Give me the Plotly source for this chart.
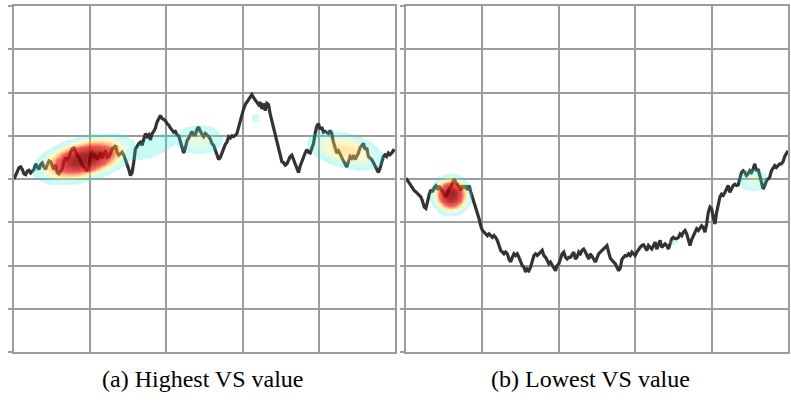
import numpy as np
import plotly.graph_objects as go

# Normalised price paths (level relative to the first step)
high_vs_path = [
    0.00, 0.10, 0.20, 0.26, 0.28, 0.22, 0.12, 0.10, 0.18, 0.20,
    0.14, 0.18, 0.22, 0.35, 0.30, 0.22, 0.33, 0.37, 0.28, 0.22,
    0.33, 0.42, 0.40, 0.28, 0.22, 0.33, 0.15, 0.12, 0.20, 0.24,
    0.40, 0.50, 0.45, 0.50, 0.62, 0.70, 0.72, 0.62, 0.55, 0.50,
    0.40, 0.33, 0.28, 0.22, 0.18, 0.28, 0.55, 0.60, 0.52, 0.55,
    0.45, 0.52, 0.62, 0.48, 0.58, 0.66, 0.50, 0.52, 0.60, 0.70,
    0.72, 0.78, 0.62, 0.55, 0.58, 0.62, 0.55, 0.45, 0.35, 0.22,
    0.08, 0.15, 0.40, 0.70, 0.75, 0.82, 0.85, 0.78, 0.92, 1.05,
    0.98, 1.02, 0.90, 1.05, 1.10, 1.18, 1.32, 1.40, 1.47, 1.40,
    1.38, 1.35, 1.28, 1.25, 1.18, 1.12, 1.08, 1.10, 1.02, 1.00,
    0.88, 0.72, 0.60, 0.72, 0.88, 0.95, 1.05, 1.10, 1.02, 1.02,
    1.15, 1.20, 1.10, 1.02, 0.98, 1.05, 1.02,
    0.98, 0.92, 0.82, 0.78, 0.68, 0.58, 0.45, 0.50, 0.62, 0.72,
    0.80, 0.85, 0.98, 0.95, 1.00, 0.98, 1.02, 1.05, 1.20, 1.35,
    1.45, 1.62, 1.72, 1.78, 1.85, 1.92, 1.95, 1.88, 1.82, 1.75,
    1.72, 1.78, 1.62, 1.75, 1.58, 1.75, 1.72, 1.50, 1.35, 1.18,
    1.05, 0.90, 0.72, 0.55, 0.40, 0.38, 0.32, 0.35, 0.45, 0.52,
    0.55, 0.45, 0.32, 0.22, 0.15, 0.30, 0.42, 0.52, 0.60, 0.68,
    0.62, 0.60, 0.72, 0.82, 1.05, 1.22, 1.28, 1.15, 1.20, 1.08,
    1.10, 1.08, 1.05, 1.12, 1.05, 0.85, 0.75, 0.60, 0.65, 0.55,
    0.50, 0.42, 0.35, 0.28, 0.40, 0.52, 0.48, 0.55, 0.45, 0.52,
    0.60, 0.72, 0.78, 0.82, 0.68, 0.72, 0.52, 0.48, 0.45, 0.38,
    0.30, 0.22, 0.15, 0.25, 0.40, 0.52, 0.56, 0.52, 0.60, 0.56,
    0.60, 0.66, 0.64,
]

low_vs_path = [
    0.02, -0.04, -0.12, -0.18, -0.23, -0.27, -0.30, -0.35, -0.38, -0.42,
    -0.52, -0.65, -0.68, -0.48, -0.35, -0.25, -0.30, -0.20, -0.16, -0.25,
    -0.16, -0.23, -0.30, -0.38, -0.42, -0.32, -0.22, -0.18, -0.08, 0.00,
    -0.08, -0.12, -0.18, -0.26, -0.15, -0.22, -0.15, -0.26, -0.15, -0.30,
    -0.42, -0.50, -0.62, -0.78, -0.92, -1.08, -1.19, -1.23, -1.27, -1.31,
    -1.27, -1.31, -1.35, -1.31, -1.35, -1.42, -1.54, -1.65, -1.69, -1.73,
    -1.69, -1.73, -1.85, -1.92, -1.81, -1.73, -1.77, -1.73, -1.81, -1.92,
    -2.00, -2.04, -2.15, -2.08, -2.12, -2.04, -1.88, -1.77, -1.73, -1.77,
    -1.73, -1.69, -1.65, -1.77, -1.81, -1.88, -1.96, -1.92, -2.00, -2.04,
    -2.12, -2.00, -1.96, -1.85, -1.73, -1.69, -1.81, -1.85, -1.81, -1.81,
    -1.73, -1.69, -1.85, -1.81, -1.69, -1.73, -1.65, -1.62, -1.69, -1.77,
    -1.85, -1.73, -1.81, -1.85, -1.92, -1.81, -1.73, -1.69, -1.65,
    -1.62, -1.58, -1.54, -1.69, -1.83, -1.88, -1.92, -1.96, -2.04, -2.12,
    -2.06, -1.86, -1.81, -1.77, -1.78, -1.73, -1.77, -1.69, -1.73, -1.77,
    -1.69, -1.62, -1.58, -1.54, -1.52, -1.58, -1.65, -1.54, -1.58, -1.62,
    -1.54, -1.46, -1.62, -1.54, -1.42, -1.58, -1.54, -1.50, -1.54, -1.62,
    -1.50, -1.38, -1.35, -1.38, -1.38, -1.35, -1.27, -1.31, -1.23, -1.19,
    -1.27, -1.38, -1.54, -1.40, -1.31, -1.23, -1.15, -1.19, -1.12, -1.08,
    -1.12, -1.23, -1.04, -0.77, -0.65, -0.69, -0.88, -1.04, -0.78, -0.55,
    -0.42, -0.35, -0.38, -0.31, -0.23, -0.15, -0.31, -0.23, -0.15, -0.12,
    -0.15, -0.14, 0.04, 0.15, 0.19, 0.15, 0.08, 0.12, 0.19, 0.15,
    0.23, 0.35, 0.19, 0.23, 0.08, -0.08, -0.23, -0.15, -0.04, 0.00,
    0.04, 0.19, 0.27, 0.31, 0.27, 0.31, 0.35, 0.35, 0.40, 0.52,
    0.60, 0.65,
]

# Saliency hot spots: centre step, centre level, spread in steps, spread in level, tilt, peak
high_vs_spot_step = [42, 84, 111, 145, 199]
high_vs_spot_level = [0.47, 0.76, 0.92, 1.41, 0.67]
high_vs_spot_wide = [18.4, 14, 10.8, 2.14, 16.0]
high_vs_spot_tall = [0.32, 0.21, 0.255, 0.082, 0.287]
high_vs_spot_tilt = [0.008, 0.015, 0.0, 0.0, -0.008]
high_vs_spot_peak = [1.0, 0.20, 0.32, 0.22, 0.45]

low_vs_spot_step = [27, 208.7, 160.8]
low_vs_spot_level = [-0.36, -0.01, -1.45]
low_vs_spot_wide = [7.6, 6.8, 2.26]
low_vs_spot_tall = [0.29, 0.207, 0.054]
low_vs_spot_tilt = [0.0, 0.0, 0.0]
low_vs_spot_peak = [1.0, 0.30, 0.20]

captions = ["(a) Highest VS value", "(b) Lowest VS value"]

GRID = "#9c9c9c"
LINE = "#333333"
FLATNESS = 1.4  # >1 gives flatter-topped, sharper-edged hot spots

heat_scale = [
    [0.0, "rgba(0,255,255,0)"],
    [0.11, "rgba(0,255,255,0)"],
    [0.111, "rgba(0,235,235,0.25)"],
    [0.25, "rgba(110,240,200,0.28)"],
    [0.38, "rgba(255,240,110,0.38)"],
    [0.52, "rgba(255,165,30,0.5)"],
    [0.68, "rgba(235,35,30,0.7)"],
    [0.85, "rgba(215,20,20,0.8)"],
    [1.0, "rgba(140,0,0,0.85)"],
]


def saliency(n, lo, hi, cx, cy, sx, sy, tilt, peak):
    xs = np.arange(0, n - 0.5, 0.5)
    ys = np.arange(lo, hi, 0.02)
    X, Y = np.meshgrid(xs, ys)
    z = np.zeros_like(X)
    for a, b, w, h, k, p in zip(cx, cy, sx, sy, tilt, peak):
        u = (X - a) / w
        v = (Y - b - k * (X - a)) / h
        z = np.maximum(z, p * np.exp(-0.5 * (u * u + v * v) ** FLATNESS))
    return xs, ys, np.round(np.minimum(z, 1.0), 3)


fig = go.Figure()

panels = [
    (high_vs_path, high_vs_spot_step, high_vs_spot_level, high_vs_spot_wide,
     high_vs_spot_tall, high_vs_spot_tilt, high_vs_spot_peak, -0.8, 2.4),
    (low_vs_path, low_vs_spot_step, low_vs_spot_level, low_vs_spot_wide,
     low_vs_spot_tall, low_vs_spot_tilt, low_vs_spot_peak, -2.4, 0.8),
]

x_domains = [[14 / 791, 395 / 791], [406 / 791, 788 / 791]]
y_domain = [1 - 352 / 403, 1 - 6 / 403]
cap_x = [203 / 791, 590 / 791]

layout = dict(
    width=791, height=403,
    margin=dict(l=0, r=0, t=0, b=0),
    paper_bgcolor="white", plot_bgcolor="white",
    showlegend=False,
)

for i, (path, cx, cy, sx, sy, tilt, peak, lo, hi) in enumerate(panels):
    n = len(path)
    steps = np.arange(n)
    base = i + 1
    over = i + 3
    xb = "x" if base == 1 else f"x{base}"
    yb = "y" if base == 1 else f"y{base}"

    fig.add_trace(go.Scatter(
        x=steps, y=path, mode="lines",
        line=dict(color=LINE, width=3.2),
        xaxis=xb, yaxis=yb, hoverinfo="skip",
    ))

    hx, hy, hz = saliency(n, lo, hi, cx, cy, sx, sy, tilt, peak)
    fig.add_trace(go.Heatmap(
        x=hx, y=hy, z=hz, zmin=0, zmax=1,
        colorscale=heat_scale, showscale=False, zsmooth="best",
        xaxis=f"x{over}", yaxis=f"y{over}", hoverinfo="skip",
    ))

    xr = [0, n - 1]
    layout[f"xaxis{'' if base == 1 else base}"] = dict(
        domain=x_domains[i], range=xr, anchor=yb,
        tick0=0, dtick=(n - 1) / 5,
        showgrid=True, gridcolor=GRID, gridwidth=1.5,
        showline=True, linecolor=GRID, linewidth=1.5, mirror=True,
        ticks="", showticklabels=False, zeroline=False,
    )
    layout[f"yaxis{'' if base == 1 else base}"] = dict(
        domain=y_domain, range=[-4, 4], anchor=xb,
        tick0=0, dtick=1,
        showgrid=True, gridcolor=GRID, gridwidth=1.5,
        showline=True, linecolor=GRID, linewidth=1.5, mirror=True,
        ticks="outside", ticklen=4, tickwidth=1.5, tickcolor=GRID,
        showticklabels=False, zeroline=False,
    )
    layout[f"xaxis{over}"] = dict(
        overlaying=xb, range=xr, anchor=f"y{over}", visible=False,
        showgrid=False, zeroline=False,
    )
    layout[f"yaxis{over}"] = dict(
        overlaying=yb, range=[-4, 4], anchor=f"x{over}", visible=False,
        showgrid=False, zeroline=False,
    )

annotations = []
for text, x in zip(captions, cap_x):
    annotations.append(dict(
        text=text, x=x, y=1 - 379 / 403, xref="paper", yref="paper",
        xanchor="center", yanchor="middle", showarrow=False,
        font=dict(family="Liberation Serif", size=24, color="black"),
    ))
layout["annotations"] = annotations

fig.update_layout(**layout)
fig.write_html("out.html")
